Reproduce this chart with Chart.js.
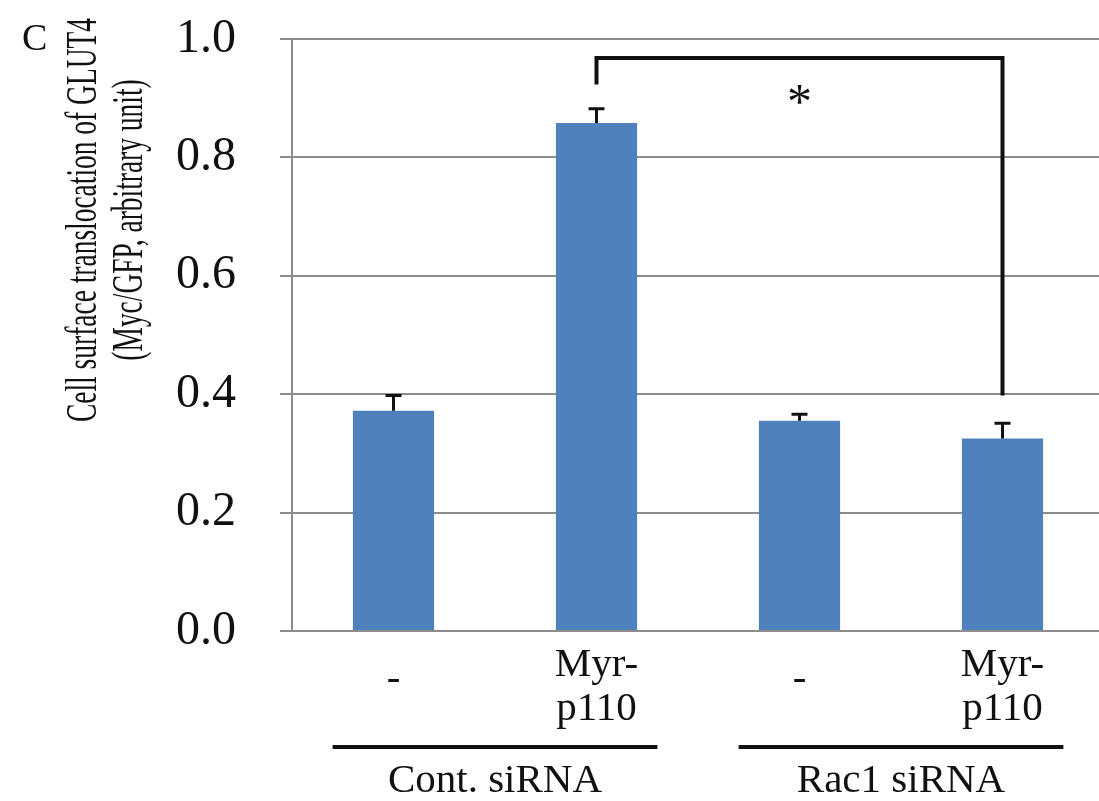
<!DOCTYPE html>
<html>
<head>
<meta charset="utf-8">
<script src="https://cdn.jsdelivr.net/npm/chart.js@4.4.1/dist/chart.umd.min.js"></script>
<style>
  html, body { margin: 0; padding: 0; background: #fff; overflow: hidden; }
  #wrap { position: absolute; left: 0; top: 0; width: 1106px; height: 801px; }
</style>
</head>
<body>
<div id="wrap"><canvas id="glut4-chart"></canvas></div>
<script>
// bar data
const treatments = [['-'], ['Myr-', 'p110'], ['-'], ['Myr-', 'p110']];
const groups = ['Cont. siRNA', 'Rac1 siRNA'];
const values = [0.372, 0.858, 0.355, 0.325];
const errors = [0.026, 0.024, 0.011, 0.026];
const yTicks = [0.0, 0.2, 0.4, 0.6, 0.8, 1.0];

// significance bracket (bar indices and y values)
const bracketBars = [1, 3];
const bracketTop = 0.968;
const bracketEnds = [0.923, 0.398];
const starValue = 0.906;

const serif = '"Liberation Serif", "Times New Roman", serif';

const extrasPlugin = {
    id: 'extras',
    afterDatasetsDraw(chart) {
        const ctx = chart.ctx;
        const x = chart.scales.x;
        const y = chart.scales.y;

        // error bars
        ctx.save();
        ctx.strokeStyle = '#111';
        ctx.lineWidth = 3;
        values.forEach((v, i) => {
            const px = x.getPixelForValue(i);
            const y0 = y.getPixelForValue(v);
            const y1 = y.getPixelForValue(v + errors[i]);
            ctx.beginPath();
            ctx.moveTo(px, y0);
            ctx.lineTo(px, y1);
            ctx.moveTo(px - 8, y1);
            ctx.lineTo(px + 8, y1);
            ctx.stroke();
        });

        // bracket
        const bx1 = x.getPixelForValue(bracketBars[0]);
        const bx2 = x.getPixelForValue(bracketBars[1]);
        ctx.lineWidth = 4;
        ctx.lineJoin = 'miter';
        ctx.beginPath();
        ctx.moveTo(bx1, y.getPixelForValue(bracketEnds[0]));
        ctx.lineTo(bx1, y.getPixelForValue(bracketTop));
        ctx.lineTo(bx2, y.getPixelForValue(bracketTop));
        ctx.lineTo(bx2, y.getPixelForValue(bracketEnds[1]));
        ctx.stroke();

        ctx.fillStyle = '#111';
        ctx.font = '50px ' + serif;
        ctx.textAlign = 'center';
        ctx.textBaseline = 'middle';
        ctx.fillText('*', (bx1 + bx2) / 2, y.getPixelForValue(starValue) + 10);

        // treatment labels under bars
        ctx.font = '41px ' + serif;
        ctx.textBaseline = 'alphabetic';
        treatments.forEach((lines, i) => {
            const px = x.getPixelForValue(i);
            if (lines.length === 1) {
                ctx.fillText(lines[0], px, 690);
            } else {
                ctx.fillText(lines[0], px, 676);
                ctx.fillText(lines[1], px, 720);
            }
        });

        // group lines and names
        const step = x.getPixelForValue(1) - x.getPixelForValue(0);
        groups.forEach((name, g) => {
            const a = x.getPixelForValue(g * 2) - step * 0.3;
            const b = x.getPixelForValue(g * 2 + 1) + step * 0.3;
            ctx.lineWidth = 4;
            ctx.beginPath();
            ctx.moveTo(a, 747);
            ctx.lineTo(b, 747);
            ctx.stroke();
            ctx.fillText(name, (a + b) / 2, 792);
        });

        // panel letter
        ctx.font = '38px ' + serif;
        ctx.textAlign = 'left';
        ctx.fillText('C', 22, 50);

        // y axis title, two rotated lines, condensed
        ctx.font = '44px ' + serif;
        const line1 = 'Cell surface translocation of GLUT4';
        const line2 = '(Myc/GFP, arbitrary unit)';
        const squeeze = 404 / ctx.measureText(line1).width;
        ctx.textAlign = 'center';
        ctx.textBaseline = 'middle';
        [[line1, 84], [line2, 130]].forEach(([t, cx]) => {
            ctx.save();
            ctx.translate(cx, 220);
            ctx.rotate(-Math.PI / 2);
            ctx.scale(squeeze, 1);
            ctx.fillText(t, 0, 0);
            ctx.restore();
        });
        ctx.restore();
    }
};

const ctx = document.getElementById('glut4-chart').getContext('2d');
new Chart(ctx, {
    type: 'bar',
    data: {
        labels: treatments.map(t => t.join(' ')),
        datasets: [{
            data: values,
            backgroundColor: '#4f81bd',
            borderWidth: 0,
            barPercentage: 0.4,
            categoryPercentage: 1.0
        }]
    },
    options: {
        responsive: true,
        maintainAspectRatio: false,
        animation: false,
        layout: { padding: { top: 39, bottom: 162, right: 2, left: 0 } },
        plugins: {
            legend: { display: false },
            tooltip: { enabled: false }
        },
        scales: {
            x: {
                ticks: { display: false },
                grid: { display: false },
                border: { display: false }
            },
            y: {
                min: 0,
                max: 1,
                afterBuildTicks: axis => { axis.ticks = yTicks.map(v => ({ value: v })); },
                afterFit: axis => {
                    axis.width = 292;
                    axis.paddingTop = 0;
                    axis.paddingBottom = 0;
                },
                ticks: {
                    padding: 44,
                    color: '#111',
                    font: { family: serif, size: 48 },
                    callback: v => v.toFixed(1)
                },
                grid: { color: '#8c8c8c', lineWidth: 2, tickLength: 12 },
                border: { display: true, color: '#8c8c8c', width: 2 }
            }
        }
    },
    plugins: [extrasPlugin]
});
</script>
</body>
</html>
